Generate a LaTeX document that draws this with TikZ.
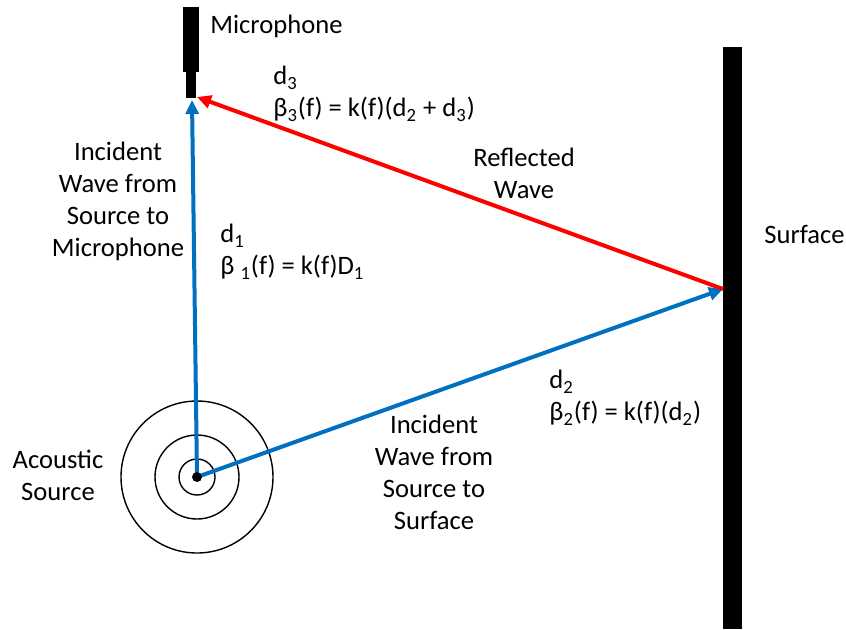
\documentclass[tikz,border=0pt]{standalone}
\usepackage{fontspec}
\setmainfont{Carlito}
\usetikzlibrary{positioning,arrows.meta}
\definecolor{WaveBlue}{RGB}{0,112,192}
\definecolor{WaveRed}{RGB}{255,0,0}

\begin{document}
\begin{tikzpicture}[
      x=0.5pt, y=-0.5pt,
      font=\fontsize{13.3}{16}\selectfont,
      label/.style={inner sep=0pt, align=center},
      leftlabel/.style={inner sep=0pt, align=left, anchor=west},
      ring/.style={draw=black, line width=0.7pt},
      bar/.style={fill=black, draw=none},
      wave/.style={line width=2pt, -{Triangle[length=7pt,width=6.5pt]}},
      incident/.style={wave, draw=WaveBlue},
      reflected/.style={wave, draw=WaveRed}
    ]
    \useasboundingbox (0,0) rectangle (846,629);

    % microphone and surface
    \fill[bar] (183,7) rectangle (199,72);
    \fill[bar] (186,72) rectangle (196,98);
    \fill[bar] (723,47) rectangle (742,629);
    \coordinate (mic) at (197,97);
    \coordinate (micin) at (192,100);
    \coordinate (surf) at (723,289);

    % acoustic source
    \coordinate (src) at (197,477);
    \foreach \r in {18,42,76}
      \draw[ring] (src) circle (\r);

    \draw[incident] (src) -- (micin);
    \draw[incident] (src) -- (surf);
    \draw[reflected] (surf) -- (mic);
    \fill (src) circle (5);

    \node[leftlabel] (miclabel) at (210,26) {Microphone};
    \node[leftlabel] (surflabel) at (764,234) {Surface};
    \node[label] (srclabel) at (58,475) {Acoustic\\Source};
    \node[label] (inmic) at (118,201) {Incident\\Wave from\\Source to\\Microphone};
    \node[label] (insurf) at (434,472) {Incident\\Wave from\\Source to\\Surface};
    \node[label] (refllabel) at (524,173) {Reflected\\Wave};
    \node[leftlabel] (done) at (220,252) {d\textsubscript{1}\\β \textsubscript{1}(f) = k(f)D\textsubscript{1}};
    \node[leftlabel] (dtwo) at (549,398) {d\textsubscript{2}\\β\textsubscript{2}(f) = k(f)(d\textsubscript{2})};
    \node[leftlabel] (dthree) at (273,94) {d\textsubscript{3}\\β\textsubscript{3}(f) = k(f)(d\textsubscript{2} + d\textsubscript{3})};
  \end{tikzpicture}
\end{document}
